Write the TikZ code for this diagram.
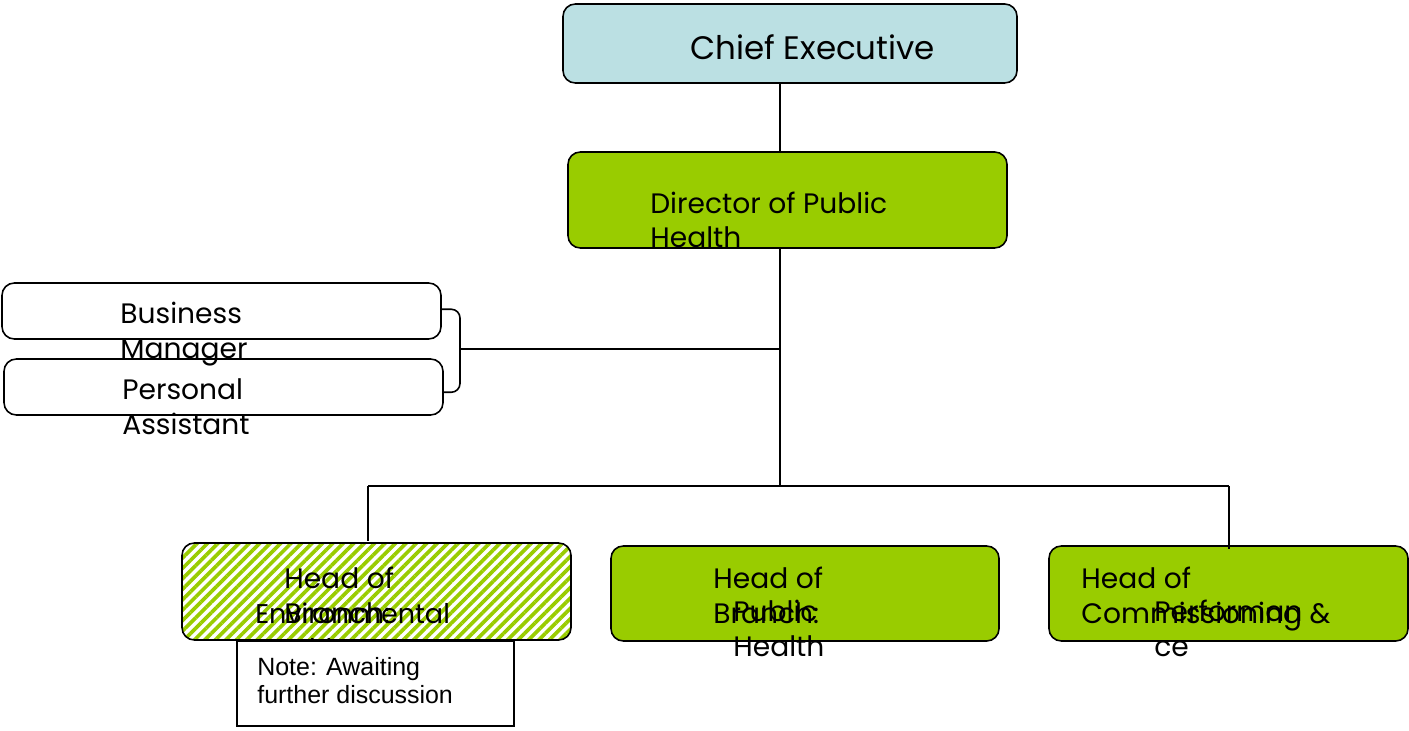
\documentclass[tikz,border=0pt]{standalone}
\usepackage{fontspec}
\setmainfont{Poppins}
\newfontfamily\notefont{Liberation Sans}
\usetikzlibrary{calc,patterns.meta}
\definecolor{ceblue}{HTML}{BBE0E3}
\definecolor{phgreen}{HTML}{99CC00}
\tikzset{post/.style={rectangle, draw=black, line width=0.9pt,
    rounded corners=7pt, minimum height=1.9cm},
  chief/.style={post, fill=ceblue, minimum width=9.08cm, minimum height=1.58cm},
  head/.style={post, fill=phgreen},
  hatched/.style={post, pattern={Lines[angle=45,distance=4.2pt,line width=2.1pt]},
    pattern color=phgreen},
  staff/.style={post, minimum width=8.78cm, minimum height=1.12cm},
  notebox/.style={rectangle, draw=black, line width=0.9pt, fill=white,
    minimum width=5.54cm, minimum height=1.7cm},
  words/.style={anchor=base west, align=left, inner sep=0pt,
    font=\fontsize{16}{19.8}\selectfont},
  line/.style={-, line width=0.9pt}
}

\begin{document}
\begin{tikzpicture}
  \useasboundingbox (0,0) rectangle (28.18,14.6);

  %Chief executive node
  \node (ce) [chief] at (15.8,13.73) {};
  \node (ceText) [words, font=\fontsize{18.5}{22}\selectfont] at (13.8,13.4) {Chief Executive};

  %Director node (text placed by its last line)
  \node (dph) [head, minimum width=8.78cm, minimum height=1.92cm] at (15.75,10.6) {};
  \node (dphText) [words] at (13.0,9.64) {Director of Public\\Health};

  %Support staff nodes
  \node (bm) [staff] at (4.43,8.38) {};
  \node (pa) [staff] at (4.47,6.86) {};
  \node (bmText) [words] at (2.4,7.44) {Business\\Manager};
  \node (paText) [words] at (2.44,5.92) {Personal\\Assistant};

  %Branch heads
  \node (env) [hatched, minimum width=7.78cm, minimum height=1.94cm] at (7.53,2.77) {};
  \node (pub) [head, minimum width=7.76cm] at (16.1,2.73) {};
  \node (com) [head, minimum width=7.18cm] at (24.57,2.73) {};

  \node (envHead) [words] at (5.68,2.14) {Head of\\Branch:};
  \node (envName) [words, font=\fontsize{15.4}{19.8}\selectfont] at (5.1,1.44) {Environmental\\Health};
  \node (pubHead) [words] at (14.26,2.14) {Head of\\Branch:};
  \node (pubName) [words] at (14.66,1.48) {Public\\Health};
  \node (comHead) [words] at (21.62,2.14) {Head of\\Commissioning \&};
  \node (comName) [words] at (23.08,1.48) {Performan\\ce};

  %Note under environmental health
  \node (note) [notebox] at (7.51,0.93) {};
  \node (noteText) [words, font=\notefont\fontsize{14.2}{15.9}\selectfont] at (5.14,0.54)
    {Note: Awaiting\\further discussion};

  %Connectors
  \coordinate (spine) at (15.6,4.88);
  \coordinate (brace) at (9.2,7.62);
  \coordinate (envDrop) at (7.36,4.88);
  \coordinate (comDrop) at (24.58,4.88);

  \draw [line] (ce.south -| spine) -- (dph.north -| spine);
  \draw [line] (dph.south -| spine) -- (spine);
  \draw [line] (envDrop) -- (comDrop);
  \draw [line] (envDrop) -- (env.north -| envDrop);
  \draw [line] (comDrop) -- ([yshift=-2pt]com.north -| comDrop);
  \draw [line, rounded corners=5pt] ([yshift=1pt]bm.east) -| (brace)
    |- ([yshift=-3pt]pa.east);
  \draw [line] (brace) -- (brace -| spine);

\end{tikzpicture}
\end{document}
